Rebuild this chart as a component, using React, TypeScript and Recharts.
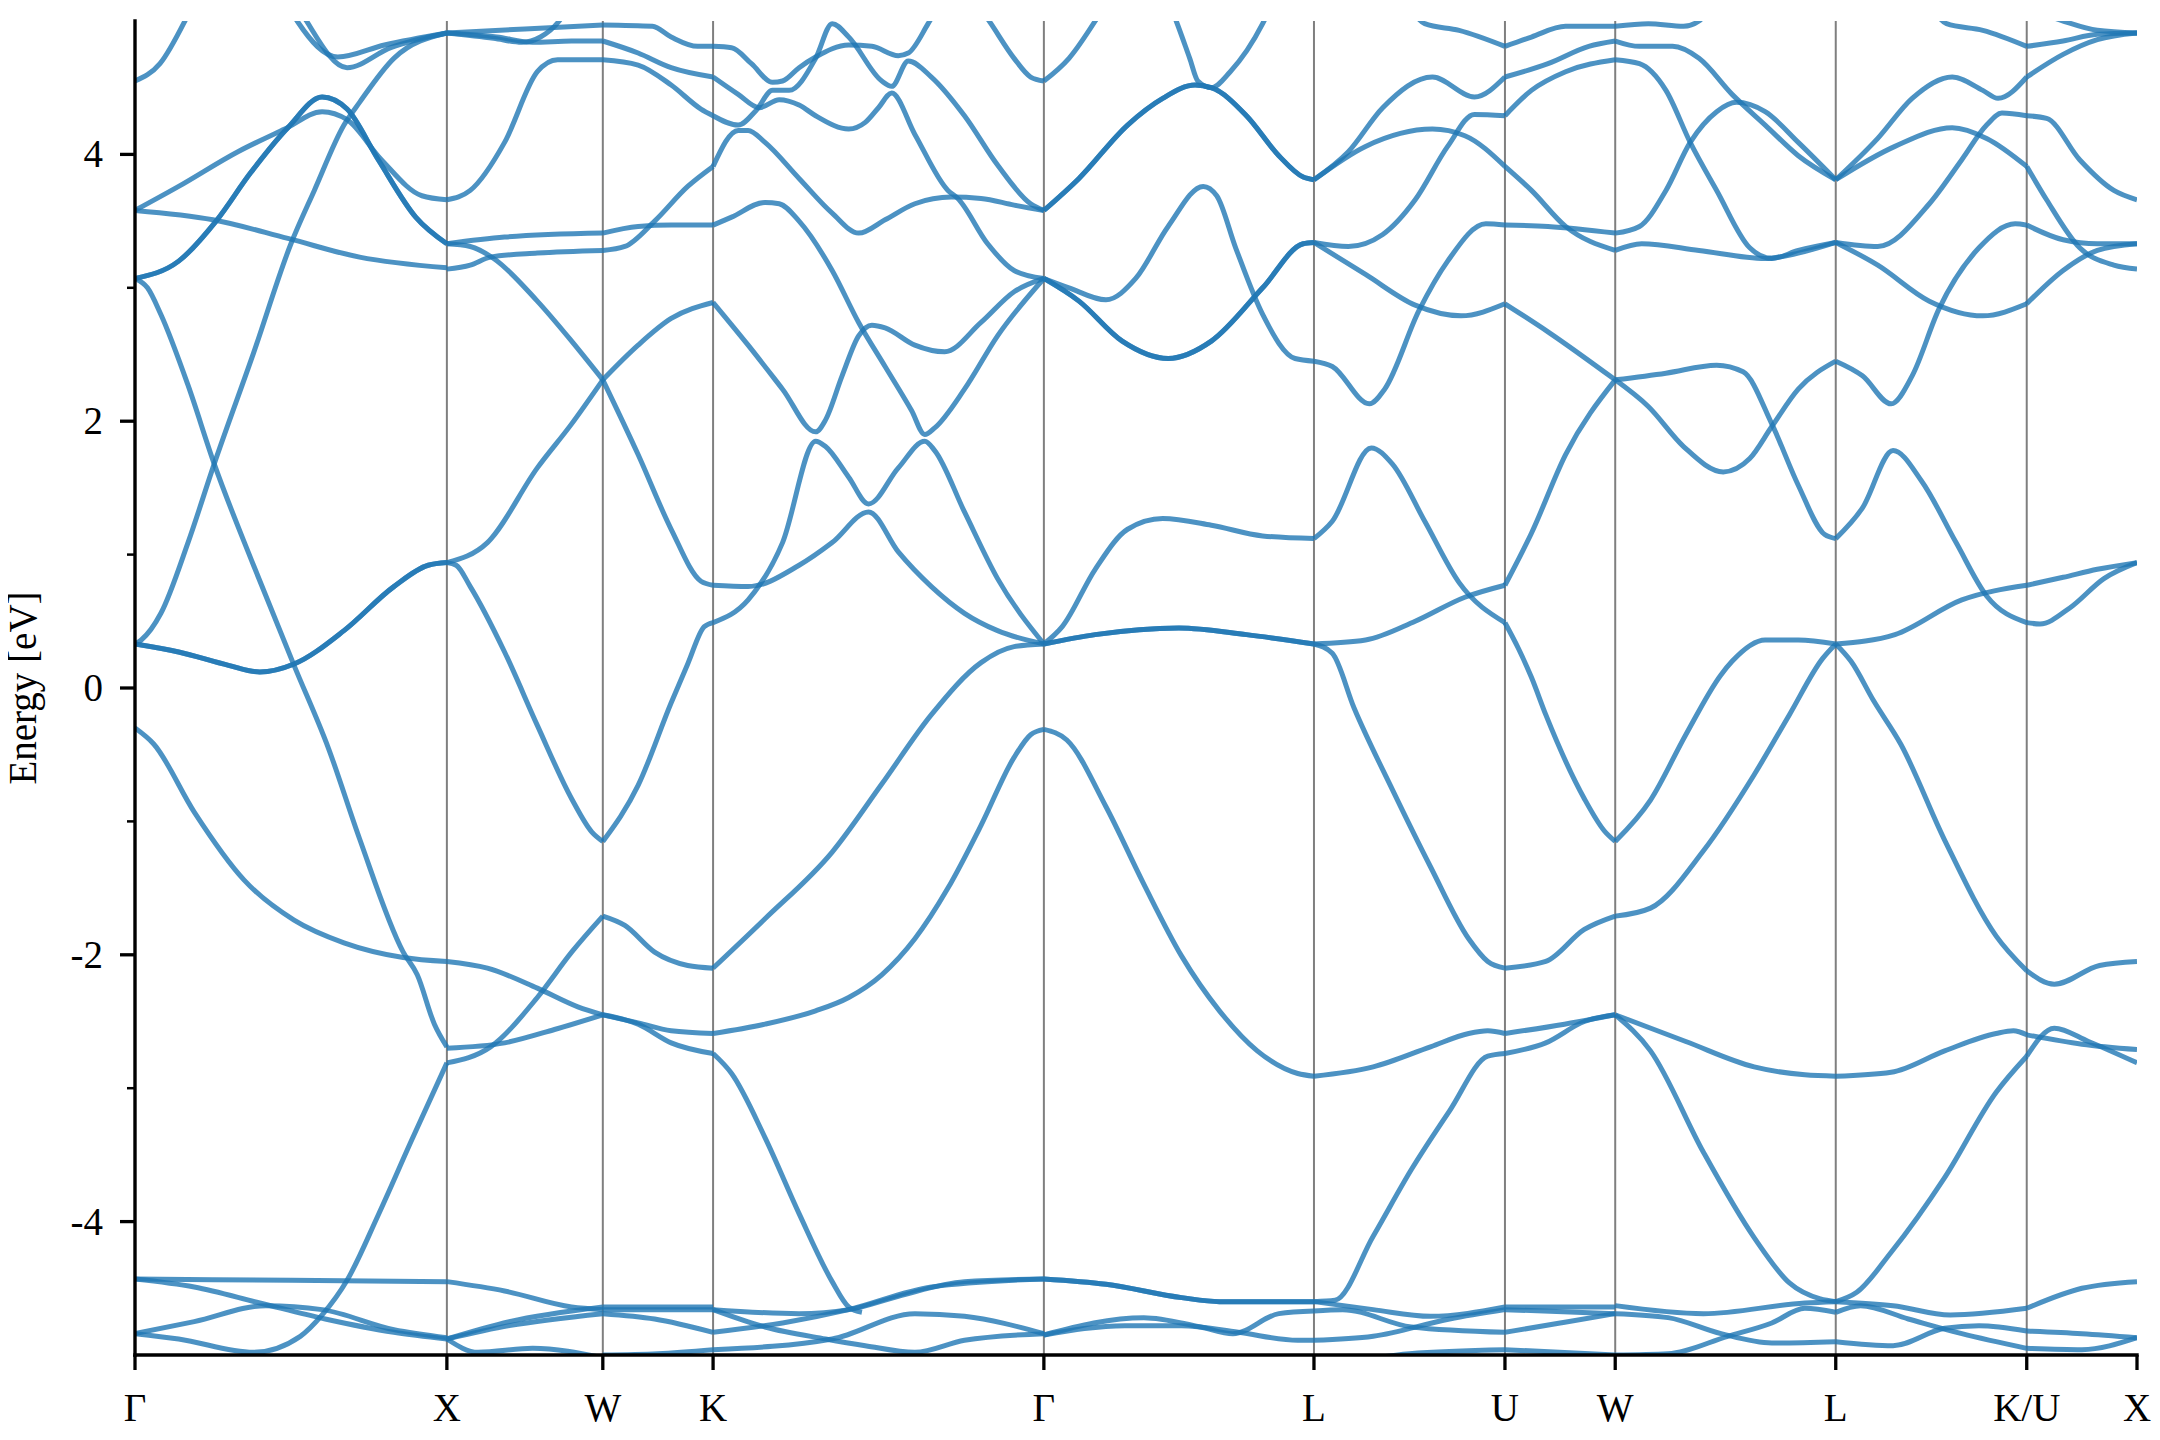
import { LineChart, Line, XAxis, YAxis, ReferenceLine } from "recharts";

const SERIF = "'Liberation Serif', 'DejaVu Serif', serif";

// high-symmetry path positions (cumulative k distance) and labels
const kPath = [0, 1, 1.5, 1.85355, 2.91421, 3.78024, 4.39261, 4.74616, 5.45327, 6.06564, 6.41919];
const kLabels = ["Γ", "X", "W", "K", "Γ", "L", "U", "W", "L", "K/U", "X"];
const energyTicks = [-4, -3, -2, -1, 0, 1, 2, 3, 4];

// bands per segment: [fraction along segment, energy (eV)]
const gammaX = [
  [[0, -0.3], [0.06, -0.42], [0.19, -0.93], [0.35, -1.44], [0.51, -1.74], [0.67, -1.91], [0.86, -2.02], [1, -2.05]],
  [[0, 3.07], [0.04, 3.0], [0.083, 2.8], [0.17, 2.27], [0.254, 1.68], [0.38, 0.92], [0.51, 0.17], [0.62, -0.45], [0.72, -1.13], [0.86, -1.98], [0.905, -2.15], [0.96, -2.52], [1, -2.69]],
  [[0, 0.33], [0.02, 0.36], [0.083, 0.56], [0.17, 1.09], [0.254, 1.68], [0.38, 2.51], [0.5, 3.33], [0.575, 3.73], [0.67, 4.22], [0.72, 4.39], [0.83, 4.72], [1, 4.91]],
  [[0, 0.33], [0.14, 0.27], [0.3, 0.17], [0.4, 0.12], [0.51, 0.18], [0.67, 0.43], [0.83, 0.76], [0.94, 0.92], [1, 0.94]],
  [[0, 0.33], [0.14, 0.27], [0.3, 0.17], [0.4, 0.12], [0.51, 0.18], [0.67, 0.43], [0.83, 0.76], [0.94, 0.92], [1, 0.94]],
  [[0, 3.58], [0.25, 3.51], [0.49, 3.37], [0.72, 3.23], [1, 3.15]],
  [[0, 3.58], [0.14, 3.76], [0.33, 4.02], [0.48, 4.19], [0.6, 4.32], [0.68, 4.26], [0.79, 3.96], [0.92, 3.69], [1, 3.66]],
  [[0, 3.07], [0.14, 3.2], [0.26, 3.5], [0.37, 3.86], [0.49, 4.2], [0.6, 4.43], [0.68, 4.34], [0.78, 3.96], [0.9, 3.53], [1, 3.33]],
  [[0, 3.07], [0.14, 3.2], [0.26, 3.5], [0.37, 3.86], [0.49, 4.2], [0.6, 4.43], [0.68, 4.34], [0.78, 3.96], [0.9, 3.53], [1, 3.33]],
  [[0, 4.55], [0.08, 4.68], [0.16, 5.0], [0.22, 5.3]],
  [[0.45, 5.3], [0.52, 5.0], [0.65, 4.73], [0.8, 4.82], [1, 4.91]],
  [[0.48, 5.3], [0.55, 5.0], [0.68, 4.65], [0.82, 4.8], [1, 4.91]],
  [[0, -4.43], [0.5, -4.44], [1, -4.45]],
  [[0, -4.43], [0.19, -4.49], [0.4, -4.61], [0.61, -4.73], [0.83, -4.83], [1, -4.88]],
  [[0, -4.84], [0.19, -4.75], [0.42, -4.63], [0.6, -4.66], [0.83, -4.81], [1, -4.87]],
  [[0, -4.84], [0.14, -4.88], [0.38, -4.98], [0.53, -4.86], [0.6, -4.7], [0.68, -4.44], [0.78, -3.95], [0.885, -3.4], [1, -2.81]],
];

const xW = [
  [[0, 4.91], [0.5, 4.94], [1, 4.97]],
  [[0, 4.91], [0.32, 4.88], [0.55, 4.84], [0.8, 4.85], [1, 4.85]],
  [[0, 4.91], [0.3, 4.87], [0.48, 4.84], [0.6, 4.88], [0.72, 5.0], [0.8, 5.15]],
  [[0, 3.66], [0.15, 3.73], [0.37, 4.09], [0.58, 4.62], [0.71, 4.71], [1, 4.71]],
  [[0, 3.33], [0.37, 3.38], [1, 3.41]],
  [[0, 3.14], [0.15, 3.17], [0.28, 3.23], [0.58, 3.26], [1, 3.28]],
  [[0, 3.33], [0.15, 3.31], [0.3, 3.22], [0.58, 2.9], [0.8, 2.6], [1, 2.31]],
  [[0, 0.94], [0.26, 1.09], [0.58, 1.65], [0.8, 1.98], [1, 2.31]],
  [[0, 0.94], [0.06, 0.92], [0.15, 0.76], [0.37, 0.27], [0.58, -0.28], [0.8, -0.83], [0.93, -1.08], [1, -1.15]],
  [[0, -2.05], [0.26, -2.1], [0.58, -2.25], [0.84, -2.39], [1, -2.45]],
  [[0, -2.7], [0.37, -2.66], [0.69, -2.56], [1, -2.45]],
  [[0, -2.81], [0.28, -2.69], [0.58, -2.32], [0.8, -1.98], [1, -1.71]],
  [[0, -4.45], [0.37, -4.52], [0.8, -4.64], [1, -4.66]],
  [[0, -4.88], [0.4, -4.75], [1, -4.64]],
  [[0, -4.88], [0.4, -4.78], [1, -4.69]],
  [[0, -4.88], [0.2, -4.98], [0.55, -4.95], [1, -5.02]],
];

const wK = [
  [[0, 4.97], [0.45, 4.96], [0.62, 4.88], [0.86, 4.81], [1, 4.81]],
  [[0, 4.85], [0.32, 4.76], [0.62, 4.65], [1, 4.58]],
  [[0, 4.71], [0.32, 4.67], [0.62, 4.52], [0.89, 4.34], [1, 4.29]],
  [[0, 3.41], [0.32, 3.46], [0.62, 3.47], [1, 3.47]],
  [[0, 3.28], [0.2, 3.31], [0.47, 3.5], [0.77, 3.76], [1, 3.91]],
  [[0, 2.31], [0.32, 2.57], [0.62, 2.77], [1, 2.89]],
  [[0, 2.31], [0.32, 1.75], [0.62, 1.19], [0.89, 0.8], [1, 0.77]],
  [[0, -1.15], [0.32, -0.73], [0.62, -0.11], [0.77, 0.18], [0.92, 0.46], [1, 0.49]],
  [[0, -1.71], [0.2, -1.78], [0.47, -1.98], [0.77, -2.08], [1, -2.1]],
  [[0, -2.45], [0.32, -2.52], [0.62, -2.66], [1, -2.74]],
  [[0, -2.45], [0.32, -2.51], [0.62, -2.57], [1, -2.59]],
  [[0, -4.64], [1, -4.64]],
  [[0, -4.69], [0.47, -4.73], [1, -4.83]],
  [[0, -4.66], [0.5, -4.66], [1, -4.66]],
  [[0, -5.0], [0.5, -4.99], [1, -4.96]],
];

const kGamma = [
  [[0, 4.81], [0.056, 4.8], [0.116, 4.68], [0.18, 4.54], [0.21, 4.55], [0.26, 4.65], [0.31, 4.73], [0.41, 4.82], [0.48, 4.81], [0.56, 4.74], [0.59, 4.76], [0.65, 4.98], [0.7, 5.2]],
  [[0, 4.58], [0.076, 4.45], [0.14, 4.35], [0.2, 4.41], [0.26, 4.37], [0.31, 4.29], [0.41, 4.19], [0.46, 4.24], [0.5, 4.35], [0.54, 4.46], [0.61, 4.15], [0.71, 3.73], [0.74, 3.67], [0.83, 3.33], [0.91, 3.13], [1, 3.07]],
  [[0, 4.29], [0.076, 4.22], [0.13, 4.33], [0.18, 4.48], [0.23, 4.48], [0.31, 4.72], [0.36, 4.98], [0.41, 4.88], [0.51, 4.55], [0.54, 4.51], [0.59, 4.7], [0.66, 4.58], [0.76, 4.29], [0.86, 3.92], [0.96, 3.63], [1, 3.58]],
  [[0, 3.91], [0.076, 4.18], [0.106, 4.18], [0.157, 4.09], [0.26, 3.82], [0.36, 3.56], [0.44, 3.41], [0.52, 3.51], [0.61, 3.63], [0.72, 3.68], [0.81, 3.67], [0.91, 3.62], [1, 3.58]],
  [[0, 3.47], [0.056, 3.53], [0.157, 3.64], [0.2, 3.63], [0.26, 3.5], [0.36, 3.13], [0.44, 2.74], [0.52, 2.41], [0.6, 2.08], [0.64, 1.9], [0.67, 1.95], [0.76, 2.24], [0.86, 2.64], [1, 3.07]],
  [[0, 2.89], [0.106, 2.57], [0.21, 2.24], [0.31, 1.92], [0.34, 2.01], [0.39, 2.34], [0.44, 2.64], [0.48, 2.72], [0.52, 2.7], [0.61, 2.57], [0.7, 2.52], [0.81, 2.74], [0.91, 2.97], [1, 3.07]],
  [[0, 0.77], [0.106, 0.76], [0.26, 0.92], [0.36, 1.09], [0.47, 1.32], [0.56, 1.02], [0.66, 0.76], [0.76, 0.56], [0.86, 0.43], [1, 0.33]],
  [[0, 0.49], [0.106, 0.66], [0.21, 1.09], [0.31, 1.85], [0.34, 1.81], [0.41, 1.58], [0.47, 1.38], [0.56, 1.65], [0.64, 1.85], [0.67, 1.78], [0.76, 1.32], [0.86, 0.82], [1, 0.33]],
  [[0.78, 5.2], [0.84, 4.98], [0.91, 4.72], [0.96, 4.58], [1, 4.55]],
  [[0, -2.1], [0.157, -1.73], [0.36, -1.23], [0.51, -0.72], [0.66, -0.2], [0.81, 0.19], [0.91, 0.31], [1, 0.33]],
  [[0, -2.59], [0.157, -2.52], [0.31, -2.42], [0.41, -2.32], [0.51, -2.15], [0.61, -1.88], [0.71, -1.5], [0.81, -1.03], [0.91, -0.52], [0.96, -0.35], [1, -0.31]],
  [[0, -2.74], [0.056, -2.89], [0.157, -3.37], [0.26, -3.94], [0.36, -4.45], [0.41, -4.64], [0.45, -4.68]],
  [[0, -4.66], [0.26, -4.69], [0.41, -4.66], [0.56, -4.56], [0.76, -4.45], [1, -4.43]],
  [[0, -4.83], [0.21, -4.76], [0.41, -4.66], [0.66, -4.49], [1, -4.43]],
  [[0, -4.66], [0.157, -4.79], [0.34, -4.88], [0.46, -4.93], [0.61, -4.98], [0.76, -4.89], [1, -4.84]],
  [[0, -4.96], [0.36, -4.88], [0.61, -4.69], [0.76, -4.71], [1, -4.84]],
];

const gammaL = [
  [[0, 4.55], [0.093, 4.72], [0.19, 5.0], [0.25, 5.2]],
  [[0.45, 5.2], [0.49, 5.0], [0.54, 4.72], [0.57, 4.55], [0.62, 4.5], [0.69, 4.62], [0.81, 4.98], [0.85, 5.15]],
  [[0, 3.58], [0.13, 3.82], [0.31, 4.22], [0.44, 4.42], [0.56, 4.52], [0.62, 4.5], [0.75, 4.29], [0.87, 3.99], [0.96, 3.83], [1, 3.81]],
  [[0, 3.58], [0.13, 3.82], [0.31, 4.22], [0.44, 4.42], [0.56, 4.52], [0.62, 4.5], [0.75, 4.29], [0.87, 3.99], [0.96, 3.83], [1, 3.81]],
  [[0, 3.07], [0.093, 3.0], [0.23, 2.91], [0.34, 3.07], [0.46, 3.46], [0.59, 3.76], [0.64, 3.69], [0.71, 3.3], [0.81, 2.8], [0.93, 2.47], [1, 2.45]],
  [[0, 3.07], [0.13, 2.9], [0.29, 2.6], [0.46, 2.47], [0.62, 2.6], [0.81, 3.0], [0.96, 3.33], [1, 3.34]],
  [[0, 3.07], [0.13, 2.9], [0.29, 2.6], [0.46, 2.47], [0.62, 2.6], [0.81, 3.0], [0.96, 3.33], [1, 3.34]],
  [[0, 0.33], [0.068, 0.46], [0.19, 0.89], [0.31, 1.19], [0.44, 1.27], [0.62, 1.22], [0.81, 1.14], [1, 1.12]],
  [[0, 0.33], [0.19, 0.4], [0.5, 0.45], [0.75, 0.4], [1, 0.33]],
  [[0, 0.33], [0.19, 0.4], [0.5, 0.45], [0.75, 0.4], [1, 0.33]],
  [[0, -0.31], [0.085, -0.39], [0.23, -0.89], [0.37, -1.47], [0.51, -2.01], [0.65, -2.42], [0.79, -2.72], [0.94, -2.89], [1, -2.91]],
  [[0, -4.43], [0.23, -4.47], [0.51, -4.57], [0.65, -4.6], [1, -4.6]],
  [[0, -4.43], [0.23, -4.47], [0.51, -4.57], [0.65, -4.6], [1, -4.6]],
  [[0, -4.85], [0.3, -4.78], [0.51, -4.78], [0.72, -4.83], [0.94, -4.89], [1, -4.89]],
  [[0, -4.85], [0.37, -4.72], [0.58, -4.79], [0.7, -4.84], [0.87, -4.69], [1, -4.67]],
];

const lU = [
  [[0.5, 5.1], [0.58, 4.98], [0.76, 4.93], [1, 4.81]],
  [[0, 3.81], [0.18, 4.02], [0.36, 4.35], [0.62, 4.58], [0.84, 4.43], [1, 4.58]],
  [[0, 3.81], [0.27, 4.06], [0.62, 4.19], [0.79, 4.14], [1, 3.91]],
  [[0, 3.34], [0.18, 3.31], [0.36, 3.4], [0.53, 3.66], [0.7, 4.06], [0.84, 4.3], [1, 4.29]],
  [[0, 3.34], [0.27, 3.1], [0.53, 2.87], [0.77, 2.79], [1, 2.88]],
  [[0, 2.45], [0.096, 2.41], [0.29, 2.13], [0.37, 2.24], [0.55, 2.83], [0.7, 3.2], [0.9, 3.48], [1, 3.47]],
  [[0, 1.12], [0.096, 1.25], [0.3, 1.8], [0.41, 1.68], [0.58, 1.25], [0.76, 0.79], [1, 0.49]],
  [[0, 0.33], [0.27, 0.36], [0.53, 0.5], [0.79, 0.68], [1, 0.77]],
  [[0, 0.33], [0.096, 0.26], [0.21, -0.15], [0.41, -0.76], [0.61, -1.34], [0.81, -1.88], [0.91, -2.05], [1, -2.1]],
  [[0, -2.91], [0.31, -2.84], [0.61, -2.69], [0.81, -2.59], [0.91, -2.57], [1, -2.59]],
  [[0, -4.6], [0.11, -4.59], [0.31, -4.11], [0.51, -3.61], [0.71, -3.17], [0.91, -2.76], [1, -2.74]],
  [[0, -4.6], [0.31, -4.66], [0.61, -4.71], [1, -4.64]],
  [[0, -4.67], [0.15, -4.66], [0.51, -4.79], [1, -4.83]],
  [[0, -4.89], [0.31, -4.86], [0.71, -4.73], [1, -4.66]],
  [[0.2, -5.05], [0.5, -4.99], [1, -4.96]],
];

const uW = [
  [[0, 4.81], [0.24, 4.88], [0.55, 4.96], [1, 4.96]],
  [[0, 4.58], [0.39, 4.68], [0.76, 4.81], [1, 4.85]],
  [[0, 4.29], [0.24, 4.48], [0.55, 4.62], [1, 4.71]],
  [[0, 3.91], [0.24, 3.73], [0.55, 3.46], [1, 3.28]],
  [[0, 3.47], [0.39, 3.46], [1, 3.41]],
  [[0, 2.88], [0.39, 2.67], [1, 2.31]],
  [[0, 0.77], [0.24, 1.16], [0.55, 1.75], [1, 2.31]],
  [[0, 0.49], [0.12, 0.3], [0.24, 0.08], [0.37, -0.2], [0.72, -0.83], [0.9, -1.07], [1, -1.15]],
  [[0, -2.1], [0.37, -2.05], [0.72, -1.81], [1, -1.71]],
  [[0, -2.59], [0.54, -2.52], [1, -2.45]],
  [[0, -2.74], [0.37, -2.66], [0.72, -2.5], [1, -2.45]],
  [[0, -4.64], [1, -4.64]],
  [[0, -4.66], [1, -4.69]],
  [[0, -4.83], [0.5, -4.76], [1, -4.69]],
  [[0, -4.96], [1, -5.0]],
];

const wL = [
  [[0, 4.96], [0.15, 4.98], [0.31, 4.96], [0.38, 5.0], [0.45, 5.15]],
  [[0, 4.85], [0.11, 4.81], [0.26, 4.81], [0.38, 4.72], [0.53, 4.45], [0.68, 4.22], [0.83, 3.99], [1, 3.81]],
  [[0, 4.71], [0.11, 4.68], [0.23, 4.48], [0.34, 4.09], [0.46, 3.73], [0.61, 3.3], [0.71, 3.22], [0.83, 3.28], [1, 3.34]],
  [[0, 3.41], [0.11, 3.46], [0.23, 3.73], [0.34, 4.09], [0.46, 4.32], [0.55, 4.39], [0.68, 4.32], [0.83, 4.09], [1, 3.81]],
  [[0, 3.28], [0.12, 3.33], [0.38, 3.28], [0.68, 3.22], [0.83, 3.26], [1, 3.34]],
  [[0, 2.31], [0.23, 2.36], [0.46, 2.42], [0.58, 2.37], [0.71, 1.98], [0.83, 1.52], [0.95, 1.15], [1, 1.12]],
  [[0, 2.31], [0.15, 2.11], [0.31, 1.81], [0.49, 1.62], [0.61, 1.72], [0.71, 1.96], [0.83, 2.24], [1, 2.45]],
  [[0, -1.15], [0.16, -0.84], [0.32, -0.35], [0.48, 0.1], [0.53, 0.2], [0.68, 0.36], [0.83, 0.36], [1, 0.33]],
  [[0, -1.71], [0.16, -1.65], [0.4, -1.22], [0.63, -0.65], [0.79, -0.2], [0.94, 0.22], [1, 0.33]],
  [[0, -2.45], [0.32, -2.65], [0.63, -2.84], [0.86, -2.9], [1, -2.91]],
  [[0, -2.45], [0.16, -2.72], [0.4, -3.48], [0.63, -4.12], [0.79, -4.46], [0.93, -4.58], [1, -4.6]],
  [[0, -4.63], [0.4, -4.69], [0.86, -4.61], [1, -4.6]],
  [[0, -4.69], [0.24, -4.72], [0.48, -4.84], [0.71, -4.91], [1, -4.9]],
  [[0, -5.0], [0.24, -4.99], [0.51, -4.86], [0.71, -4.76], [0.86, -4.65], [1, -4.68]],
];

const lKU = [
  [[0.5, 5.1], [0.58, 4.98], [0.77, 4.93], [1, 4.81]],
  [[0, 3.81], [0.22, 4.12], [0.4, 4.42], [0.61, 4.58], [0.77, 4.48], [0.85, 4.42], [1, 4.58]],
  [[0, 3.81], [0.31, 4.06], [0.61, 4.2], [0.79, 4.12], [1, 3.91]],
  [[0, 3.34], [0.22, 3.31], [0.49, 3.63], [0.66, 3.96], [0.79, 4.22], [0.87, 4.31], [1, 4.29]],
  [[0, 3.34], [0.22, 3.17], [0.49, 2.9], [0.77, 2.79], [1, 2.88]],
  [[0, 2.45], [0.14, 2.34], [0.29, 2.13], [0.4, 2.34], [0.54, 2.84], [0.75, 3.3], [0.94, 3.48], [1, 3.47]],
  [[0, 1.12], [0.14, 1.35], [0.3, 1.78], [0.45, 1.55], [0.63, 1.09], [0.79, 0.69], [1, 0.49]],
  [[0, 0.33], [0.31, 0.4], [0.66, 0.66], [1, 0.77]],
  [[0, 0.33], [0.08, 0.2], [0.2, -0.1], [0.34, -0.42], [0.57, -1.14], [0.84, -1.86], [1, -2.12]],
  [[0, -2.91], [0.29, -2.88], [0.57, -2.72], [0.84, -2.59], [0.93, -2.57], [1, -2.6]],
  [[0, -4.6], [0.11, -4.53], [0.29, -4.23], [0.57, -3.67], [0.84, -3.03], [1, -2.76]],
  [[0, -4.6], [0.3, -4.63], [0.6, -4.7], [1, -4.65]],
  [[0, -4.68], [0.13, -4.63], [0.38, -4.73], [0.66, -4.84], [1, -4.95]],
  [[0, -4.9], [0.3, -4.93], [0.57, -4.8], [0.75, -4.78], [1, -4.82]],
];

const kuX = [
  [[0, 4.81], [0.33, 4.85], [0.64, 4.9], [1, 4.91]],
  [[0, 4.58], [0.33, 4.75], [0.64, 4.86], [1, 4.91]],
  [[0, 5.1], [0.33, 5.0], [0.64, 4.93], [1, 4.91]],
  [[0, 4.29], [0.18, 4.27], [0.48, 3.96], [0.79, 3.73], [1, 3.66]],
  [[0, 3.91], [0.18, 3.66], [0.48, 3.3], [0.79, 3.17], [1, 3.14]],
  [[0, 3.47], [0.33, 3.36], [0.64, 3.33], [1, 3.33]],
  [[0, 2.88], [0.33, 3.13], [0.64, 3.28], [1, 3.33]],
  [[0, 0.77], [0.33, 0.83], [0.64, 0.89], [1, 0.94]],
  [[0, 0.49], [0.12, 0.48], [0.39, 0.6], [0.7, 0.82], [1, 0.94]],
  [[0, -2.12], [0.25, -2.22], [0.66, -2.08], [1, -2.05]],
  [[0, -2.6], [0.5, -2.67], [1, -2.71]],
  [[0, -2.76], [0.25, -2.55], [0.56, -2.65], [1, -2.81]],
  [[0, -4.65], [0.5, -4.5], [1, -4.45]],
  [[0, -4.82], [0.5, -4.84], [1, -4.87]],
  [[0, -4.95], [0.5, -4.96], [1, -4.87]],
];

const segments = [gammaX, xW, wK, kGamma, gammaL, lU, uW, wL, lKU, kuX];

// chart is shifted left by the body margin, so chart x equals page x
const PLOT_LEFT = 135;
const PLOT_BOTTOM = 1347;

const bandLines = segments.flatMap((bands, s) =>
  bands.map((band, b) => ({
    id: `s${s}-b${b}`,
    points: band.map(([f, e]) => ({ k: kPath[s] + f * (kPath[s + 1] - kPath[s]), e })),
  }))
);

const KTick = (props: any) => {
  const { x, payload } = props;
  const i = kPath.findIndex((k) => Math.abs(k - payload.value) < 1e-4);
  return (
    <g>
      <line x1={x} y1={PLOT_BOTTOM} x2={x} y2={PLOT_BOTTOM + 15} stroke="#000" strokeWidth={3.3} />
      <text x={x} y={PLOT_BOTTOM + 66} textAnchor="middle" fontSize={39} fontFamily={SERIF} fill="#000">
        {kLabels[i]}
      </text>
    </g>
  );
};

const ETick = (props: any) => {
  const { y, payload } = props;
  const major = payload.value % 2 === 0;
  return (
    <g>
      <line
        x1={PLOT_LEFT}
        y1={y}
        x2={PLOT_LEFT - (major ? 15 : 8)}
        y2={y}
        stroke="#000"
        strokeWidth={major ? 3.3 : 2.5}
      />
      {major && (
        <text x={PLOT_LEFT - 32} y={y + 13} textAnchor="end" fontSize={39} fontFamily={SERIF} fill="#000">
          {payload.value}
        </text>
      )}
    </g>
  );
};

const spine = { stroke: "#000", strokeWidth: 3.4, strokeLinecap: "square" as const };

export default function App() {
  return (
    <div style={{ position: "relative", left: -8, width: 2158, height: 1420, background: "#fff" }}>
      <LineChart width={2158} height={1420} margin={{ top: 13, right: 21, bottom: 33, left: 75 }}>
        <XAxis
          type="number"
          dataKey="k"
          domain={[0, kPath[kPath.length - 1]]}
          ticks={kPath}
          interval={0}
          allowDataOverflow
          height={40}
          tickSize={0}
          tickMargin={0}
          tickLine={false}
          axisLine={spine}
          tick={(p: any) => <KTick {...p} />}
        />
        <XAxis
          xAxisId="top"
          orientation="top"
          type="number"
          domain={[0, kPath[kPath.length - 1]]}
          allowDataOverflow
          height={0}
          tick={false}
          tickLine={false}
          axisLine={spine}
        />
        <YAxis
          type="number"
          domain={[-5, 5]}
          ticks={energyTicks}
          interval={0}
          allowDataOverflow
          width={60}
          tickSize={0}
          tickMargin={0}
          tickLine={false}
          axisLine={spine}
          tick={(p: any) => <ETick {...p} />}
          label={() => (
            <text
              x={36}
              y={680}
              transform="rotate(-90, 36, 680)"
              textAnchor="middle"
              fontSize={39}
              fontFamily={SERIF}
              fill="#000"
            >
              Energy [eV]
            </text>
          )}
        />
        <YAxis
          yAxisId="right"
          orientation="right"
          type="number"
          domain={[-5, 5]}
          allowDataOverflow
          width={0}
          tick={false}
          tickLine={false}
          axisLine={spine}
        />
        {kPath.slice(1, -1).map((k, i) => (
          <ReferenceLine key={`v${i}`} x={k} stroke="#000" strokeOpacity={0.5} strokeWidth={2} />
        ))}
        {bandLines.map((l) => (
          <Line
            key={l.id}
            data={l.points}
            dataKey="e"
            type="monotone"
            stroke="#1f77b4"
            strokeOpacity={0.8}
            strokeWidth={5}
            dot={false}
            activeDot={false}
            legendType="none"
            isAnimationActive={false}
          />
        ))}
      </LineChart>
    </div>
  );
}
